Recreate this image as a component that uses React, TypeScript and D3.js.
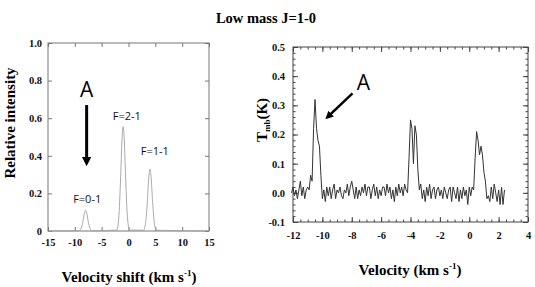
import React, { useRef, useEffect } from "react";
import * as d3 from "d3";

const chartTitle = "Low mass J=1-0";

// left panel: hyperfine pattern of the J=1-0 line
const hfsVelocity = [-15, -9.2, -8.8, -8.5, -8.2, -8.0, -7.8, -7.5, -7.2, -6.8, -2.2, -1.8, -1.5, -1.2, -1.0, -0.8, -0.5, -0.2, 0.2, 2.8, 3.2, 3.5, 3.8, 4.0, 4.2, 4.5, 4.8, 5.2, 15];
const hfsIntensity = [0, 0.001, 0.015, 0.05, 0.097, 0.11, 0.097, 0.05, 0.015, 0.001, 0.005, 0.075, 0.26, 0.49, 0.555, 0.49, 0.26, 0.075, 0.005, 0.004, 0.045, 0.15, 0.29, 0.33, 0.29, 0.15, 0.045, 0.004, 0];
const hfsLabels = ["F=0-1", "F=2-1", "F=1-1"];
const hfsLabelVelocity = [-7.7, -0.3, 4.9];
const hfsLabelIntensity = [0.15, 0.59, 0.405];
const leftXTicks = [-15, -10, -5, 0, 5, 10, 15];
const leftYTicks = [0, 0.2, 0.4, 0.6, 0.8, 1.0];
const leftYTickLabels = ["0", "0.2", "0.4", "0.6", "0.8", "1.0"];

// right panel: observed spectrum, channels start at -12.1 km/s, 0.1 km/s wide
const channelStart = -12.1;
const channelWidth = 0.1;
const tmb = [
  0.0, 0.02, -0.01, 0.01, -0.02, 0.01, 0.04, -0.01, 0.02, -0.02,
  0.01, 0.02, 0.01, 0.06, 0.04, 0.22, 0.32, 0.22, 0.18, 0.16,
  0.06, -0.02, 0.01, -0.03, 0.02, -0.01, 0.02, -0.02, 0.01, 0.03,
  -0.02, 0.01, 0.0, 0.02, -0.01, -0.02, 0.01, 0.0, 0.03, -0.01,
  0.02, 0.04, 0.01, -0.02, 0.02, -0.02, 0.01, -0.01, 0.02, 0.0,
  0.03, -0.01, 0.02, 0.02, -0.02, 0.01, 0.03, -0.01, 0.02, -0.02,
  0.01, -0.01, 0.02, 0.02, -0.01, 0.03, 0.0, 0.02, -0.02, 0.01,
  -0.03, 0.02, -0.01, 0.03, 0.0, 0.02, -0.01, 0.03, 0.01, 0.0,
  0.12, 0.25, 0.22, 0.1, 0.23, 0.2, 0.08, 0.01, 0.03, -0.02,
  0.01, -0.03, 0.02, -0.01, 0.03, -0.02, 0.01, 0.02, -0.02, 0.01,
  0.02, -0.01, 0.01, -0.02, 0.02, 0.0, -0.02, 0.01, 0.02, -0.03,
  0.02, 0.0, -0.02, 0.02, -0.03, 0.01, -0.02, 0.02, -0.01, 0.01,
  -0.04, 0.02, -0.01, 0.02, 0.01, 0.12, 0.21, 0.18, 0.13, 0.16,
  0.13, 0.07, 0.04, -0.02, -0.01, -0.03, 0.02, -0.02, 0.03, 0.0,
  -0.03, 0.01, -0.04, 0.02, -0.04, 0.01,
];
const rightXTicks = [-12, -10, -8, -6, -4, -2, 0, 2, 4];
const rightYTicks = [-0.1, 0, 0.1, 0.2, 0.3, 0.4, 0.5];

const serif = "'Liberation Serif', 'Times New Roman', serif";
const sans = "'Open Sans', 'DejaVu Sans', sans-serif";

function App() {
  const svgRef = useRef<SVGSVGElement>(null);

  useEffect(() => {
    const svg = d3.select(svgRef.current);
    svg.selectAll("*").remove();

    svg.append("defs").append("marker")
      .attr("id", "head")
      .attr("viewBox", "0 0 10 10")
      .attr("refX", 5).attr("refY", 5)
      .attr("markerWidth", 3.2).attr("markerHeight", 3.2)
      .attr("orient", "auto")
      .append("path").attr("d", "M0,0L10,5L0,10z").attr("fill", "#000");

    svg.append("text")
      .attr("x", 266).attr("y", 23)
      .attr("text-anchor", "middle")
      .attr("font-family", serif).attr("font-weight", "bold").attr("font-size", 14.5)
      .text(chartTitle);

    // strip the domain path, colour ticks, bold serif labels
    const styleAxis = (g, color) => {
      g.attr("font-family", serif).attr("font-weight", "bold").attr("font-size", 10.5);
      g.select(".domain").remove();
      g.selectAll("line").attr("stroke", color);
      g.selectAll("text")
        .attr("font-family", serif).attr("font-weight", "bold").attr("font-size", 10.5)
        .attr("fill", "#111");
    };
    const plain = d => String(d);
    const oneDecimal = d => d3.format(".1f")(d).replace("\u2212", "-");

    // ---------- left panel ----------
    const lx = d3.scaleLinear().domain([-15, 15]).range([48, 209]);
    const ly = d3.scaleLinear().domain([0, 1]).range([231, 43]);
    const left = svg.append("g");

    left.append("g").attr("transform", "translate(0,231)")
      .call(d3.axisBottom(lx).tickValues(leftXTicks).tickSize(-4).tickPadding(8).tickFormat(plain))
      .call(g => styleAxis(g, "#777"));
    left.append("g").attr("transform", "translate(0,43)")
      .call(d3.axisTop(lx).tickValues(leftXTicks).tickSize(-4).tickFormat(() => ""))
      .call(g => styleAxis(g, "#777"));
    left.append("g").attr("transform", "translate(48,0)")
      .call(d3.axisLeft(ly).tickValues(leftYTicks).tickSize(-4).tickPadding(6)
        .tickFormat((d, i) => leftYTickLabels[i]))
      .call(g => styleAxis(g, "#777"));
    left.append("g").attr("transform", "translate(209,0)")
      .call(d3.axisRight(ly).tickValues(leftYTicks).tickSize(-4).tickFormat(() => ""))
      .call(g => styleAxis(g, "#777"));
    left.append("rect")
      .attr("x", 48).attr("y", 43).attr("width", 161).attr("height", 188)
      .attr("fill", "none").attr("stroke", "#777").attr("stroke-width", 1);

    const hfsLine = d3.line<number>()
      .x((d, i) => lx(hfsVelocity[i]))
      .y(d => ly(d))
      .curve(d3.curveMonotoneX);
    left.append("path")
      .attr("d", hfsLine(hfsIntensity))
      .attr("fill", "none").attr("stroke", "#a0a0a0").attr("stroke-width", 0.9);

    left.selectAll(".hfs-label").data(hfsLabels).join("text")
      .attr("class", "hfs-label")
      .attr("x", (d, i) => lx(hfsLabelVelocity[i]))
      .attr("y", (d, i) => ly(hfsLabelIntensity[i]))
      .attr("text-anchor", "middle")
      .attr("font-family", sans).attr("font-size", 11).attr("fill", "#111")
      .text(d => d);

    left.append("text")
      .attr("x", lx(-7.8)).attr("y", ly(0.713))
      .attr("text-anchor", "middle")
      .attr("font-family", sans).attr("font-size", 21)
      .text("A");
    left.append("line")
      .attr("x1", lx(-7.8)).attr("y1", ly(0.67))
      .attr("x2", lx(-7.8)).attr("y2", ly(0.37))
      .attr("stroke", "#000").attr("stroke-width", 3)
      .attr("marker-end", "url(#head)");

    left.append("text")
      .attr("transform", "translate(15,123) rotate(-90)")
      .attr("text-anchor", "middle")
      .attr("font-family", serif).attr("font-weight", "bold").attr("font-size", 15)
      .text("Relative intensity");

    const lt = left.append("text")
      .attr("x", 129).attr("y", 282)
      .attr("text-anchor", "middle")
      .attr("font-family", serif).attr("font-weight", "bold").attr("font-size", 15);
    lt.append("tspan").text("Velocity shift (km s");
    lt.append("tspan").attr("dy", -6).attr("font-size", 9).text("-1");
    lt.append("tspan").attr("dy", 6).text(")");

    // ---------- right panel ----------
    const rx = d3.scaleLinear().domain([-12, 4]).range([293, 528]);
    const ry = d3.scaleLinear().domain([-0.1, 0.5]).range([222, 47]);
    const right = svg.append("g");
    const xMinor = d3.range(-12, 4.01, 0.5);
    const yMinor = d3.range(-0.1, 0.501, 0.02);

    right.append("g").attr("transform", "translate(0,222)")
      .call(d3.axisBottom(rx).tickValues(xMinor).tickSize(-2.5).tickFormat(() => ""))
      .call(g => styleAxis(g, "#444"));
    right.append("g").attr("transform", "translate(0,222)")
      .call(d3.axisBottom(rx).tickValues(rightXTicks).tickSize(-5).tickPadding(10).tickFormat(plain))
      .call(g => styleAxis(g, "#444"));
    right.append("g").attr("transform", "translate(0,47)")
      .call(d3.axisTop(rx).tickValues(xMinor).tickSize(-2.5).tickFormat(() => ""))
      .call(g => styleAxis(g, "#444"));
    right.append("g").attr("transform", "translate(0,47)")
      .call(d3.axisTop(rx).tickValues(rightXTicks).tickSize(-5).tickFormat(() => ""))
      .call(g => styleAxis(g, "#444"));
    right.append("g").attr("transform", "translate(293,0)")
      .call(d3.axisLeft(ry).tickValues(yMinor).tickSize(-2.5).tickFormat(() => ""))
      .call(g => styleAxis(g, "#444"));
    right.append("g").attr("transform", "translate(293,0)")
      .call(d3.axisLeft(ry).tickValues(rightYTicks).tickSize(-5).tickPadding(8).tickFormat(oneDecimal))
      .call(g => styleAxis(g, "#444"));
    right.append("g").attr("transform", "translate(528,0)")
      .call(d3.axisRight(ry).tickValues(yMinor).tickSize(-2.5).tickFormat(() => ""))
      .call(g => styleAxis(g, "#444"));
    right.append("g").attr("transform", "translate(528,0)")
      .call(d3.axisRight(ry).tickValues(rightYTicks).tickSize(-5).tickFormat(() => ""))
      .call(g => styleAxis(g, "#444"));
    right.append("rect")
      .attr("x", 293).attr("y", 47).attr("width", 235).attr("height", 175)
      .attr("fill", "none").attr("stroke", "#444").attr("stroke-width", 1);

    const specLine = d3.line<number>()
      .x((d, i) => rx(channelStart + i * channelWidth))
      .y(d => ry(d));
    right.append("path")
      .attr("d", specLine(tmb))
      .attr("fill", "none").attr("stroke", "#333").attr("stroke-width", 1);

    right.append("text")
      .attr("x", rx(-7.2)).attr("y", ry(0.352))
      .attr("text-anchor", "middle")
      .attr("font-family", sans).attr("font-size", 21)
      .text("A");
    right.append("line")
      .attr("x1", rx(-7.95)).attr("y1", ry(0.341))
      .attr("x2", rx(-9.6)).attr("y2", ry(0.262))
      .attr("stroke", "#000").attr("stroke-width", 2.5)
      .attr("marker-end", "url(#head)");

    const yt = right.append("text")
      .attr("transform", "translate(267,120) rotate(-90)")
      .attr("text-anchor", "middle")
      .attr("font-family", serif).attr("font-weight", "bold").attr("font-size", 15);
    yt.append("tspan").text("T");
    yt.append("tspan").attr("dy", 3).attr("font-size", 9).text("mb");
    yt.append("tspan").attr("dy", -3).text("(K)");

    const xt = right.append("text")
      .attr("x", 410).attr("y", 275)
      .attr("text-anchor", "middle")
      .attr("font-family", serif).attr("font-weight", "bold").attr("font-size", 15);
    xt.append("tspan").text("Velocity (km s");
    xt.append("tspan").attr("dy", -6).attr("font-size", 9).text("-1");
    xt.append("tspan").attr("dy", 6).text(")");
  }, []);

  return (
    <svg ref={svgRef} width={535} height={287}
      style={{ position: "absolute", left: 0, top: 0, background: "#fff" }} />
  );
}

export default App;
